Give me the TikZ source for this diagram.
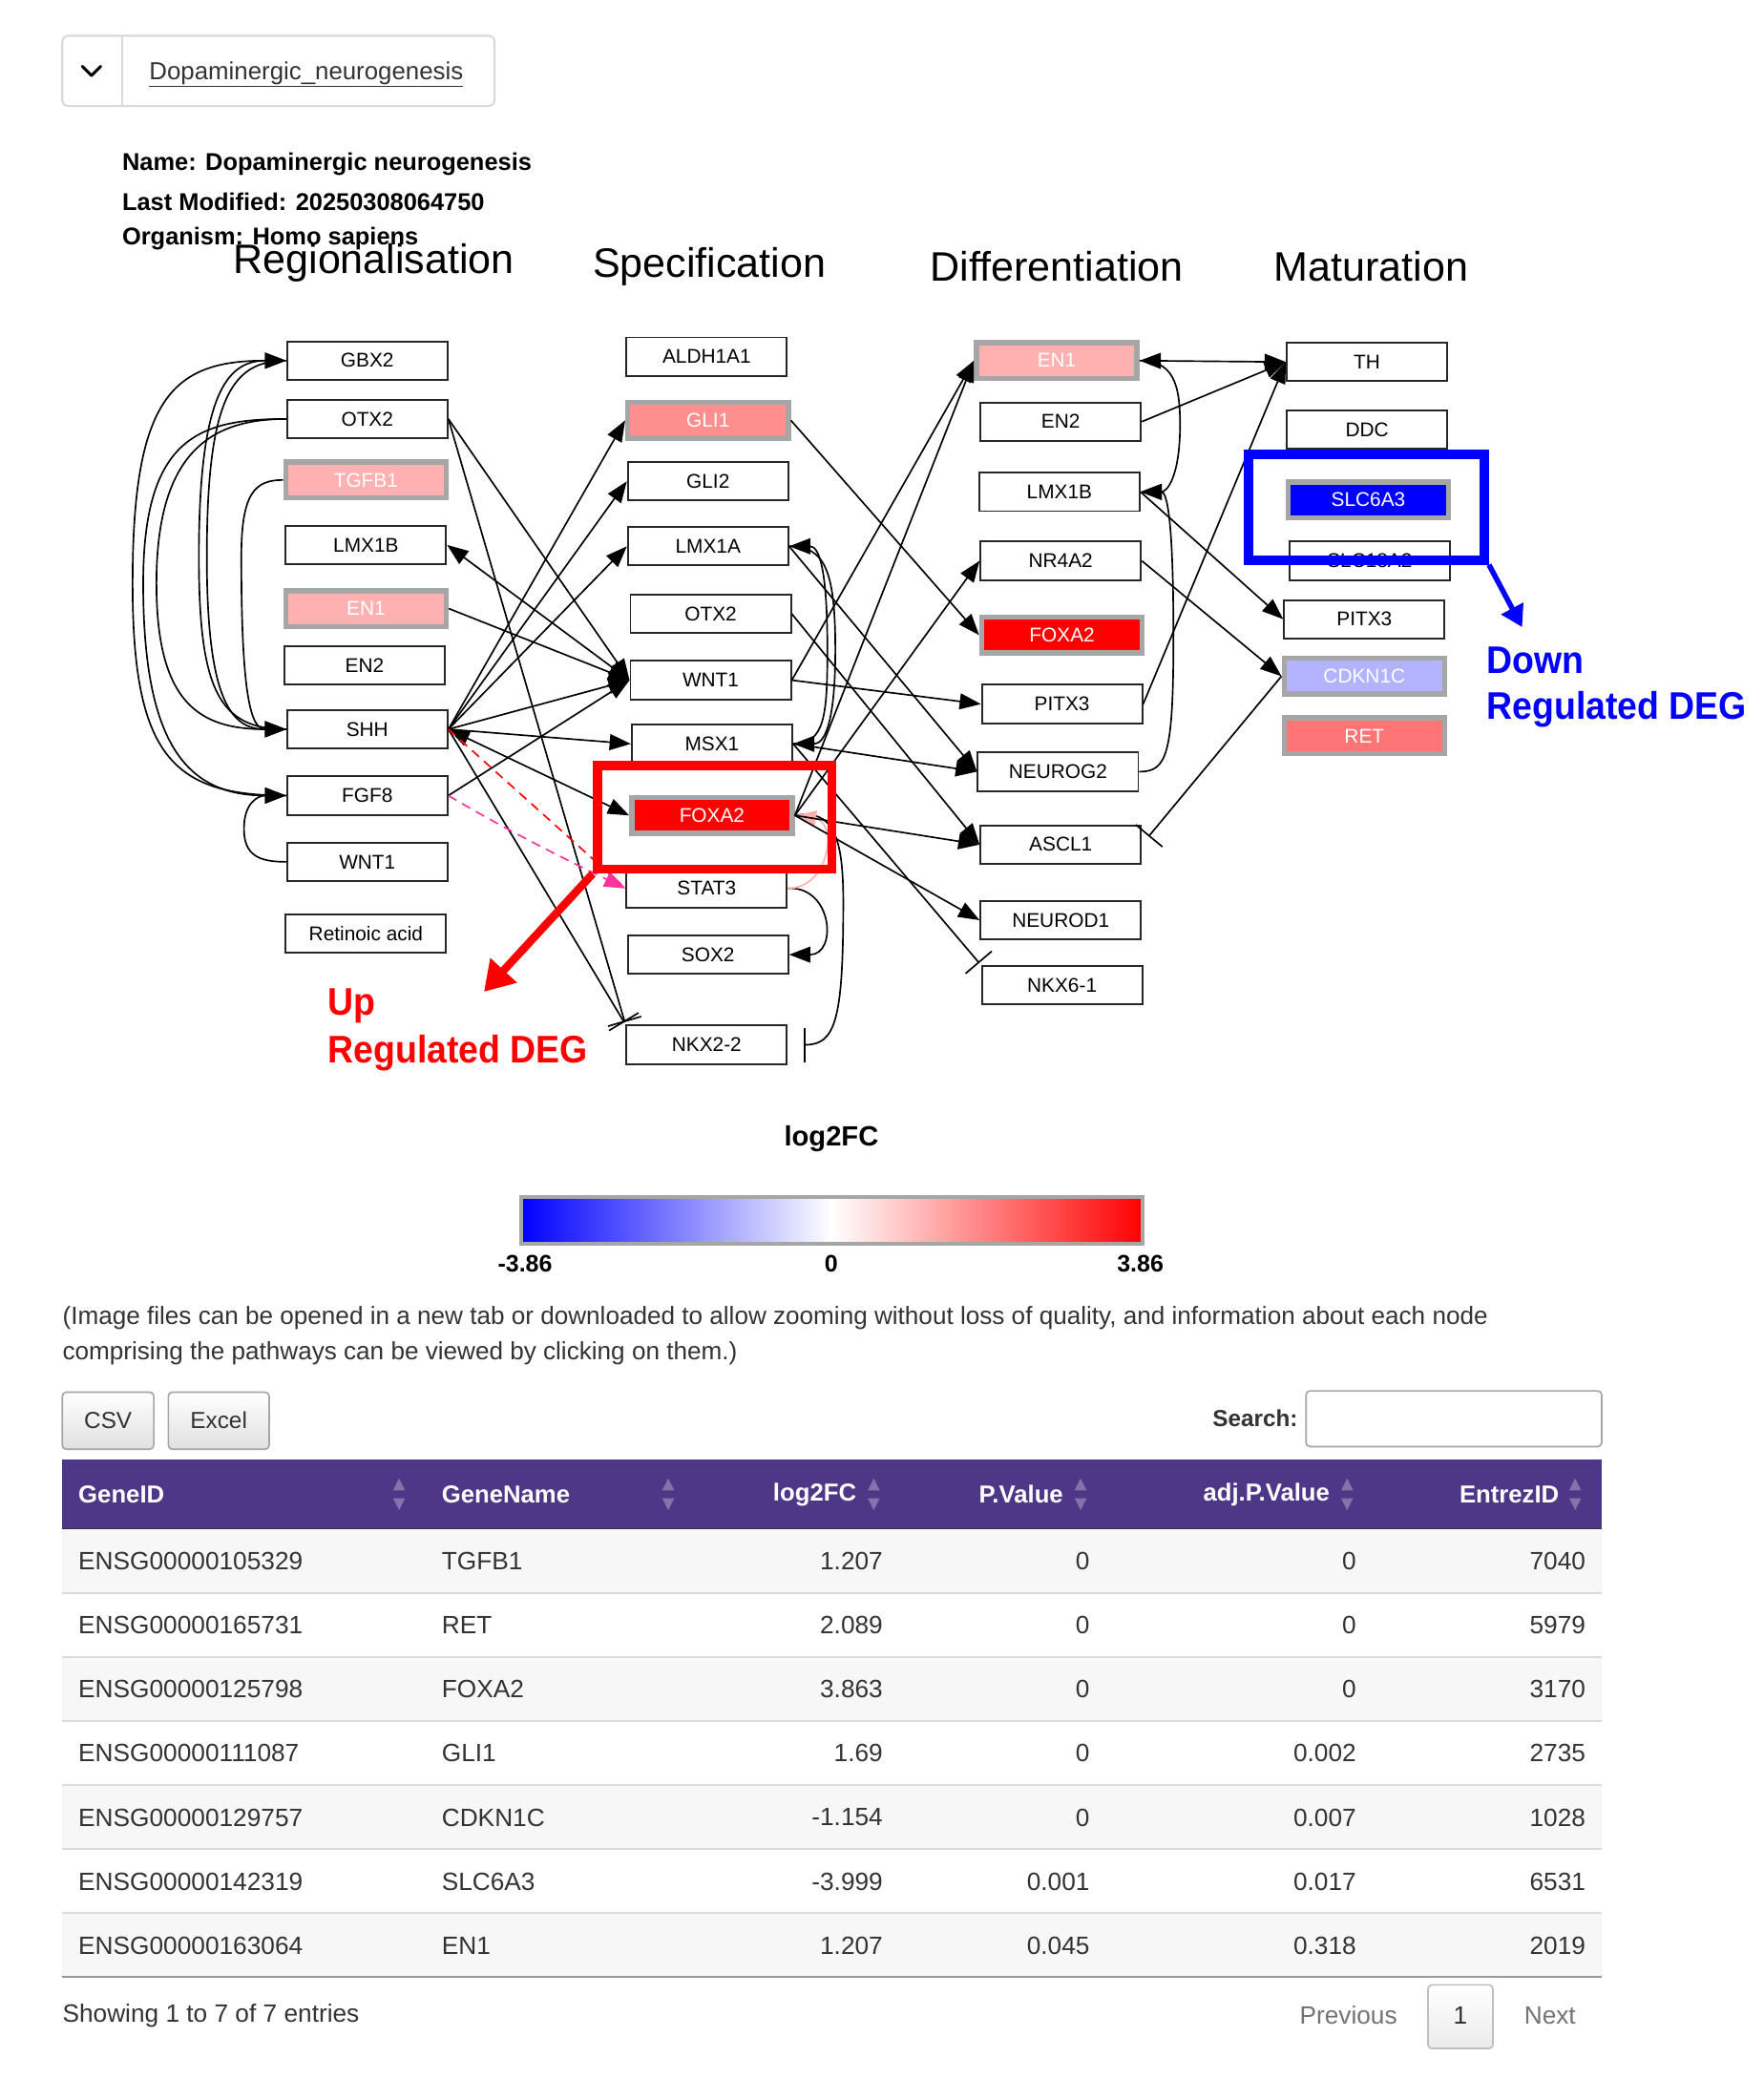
\documentclass[tikz,border=0pt]{standalone}
\usepackage{fontspec}
\setmainfont{Liberation Sans}
\newfontfamily\annfont[FakeStretch=0.93]{Liberation Sans}
\usetikzlibrary{arrows.meta}
\newcommand\myfs[1]{\fontsize{#1}{#1}\selectfont}
\definecolor{upA}{HTML}{FFB0B0}
\definecolor{upB}{HTML}{FF8F8F}
\definecolor{upC}{HTML}{FF7575}
\definecolor{upD}{HTML}{FF0000}
\definecolor{dnA}{HTML}{B3B3FF}
\definecolor{dnB}{HTML}{0000FF}
\definecolor{degborder}{HTML}{A6A6A6}
\definecolor{hdr}{HTML}{4F3787}
\definecolor{txt}{HTML}{333333}
\definecolor{magdash}{HTML}{FF3399}
\tikzset{
  gene/.style={draw=black!85, line width=1.4pt, fill=white, minimum width=121pt, minimum height=29pt, inner sep=0pt, font=\myfs{15}},
  deg/.style={gene, draw=degborder, line width=4pt, minimum height=27pt, text=white},
  arr/.style={line width=1.2pt, -{Triangle[length=16pt,width=12pt]}},
  darr/.style={line width=1.2pt, {Triangle[length=16pt,width=12pt]}-{Triangle[length=16pt,width=12pt]}},
  tee/.style={line width=1.2pt, -{Bar[width=26pt,line width=1.2pt]}},
  coltitle/.style={font=\myfs{31}, inner sep=0pt},
  info/.style={font=\bfseries\myfs{18.3}, anchor=west, inner sep=0pt},
  cell/.style={font=\myfs{18.9}, text=txt, inner sep=0pt},
  hcell/.style={font=\bfseries\myfs{18.5}, text=white, inner sep=0pt},
  annot/.style={font=\annfont\bfseries\myfs{29}, anchor=west, inner sep=0pt},
  sortic/.style={fill=white, opacity=0.3},
}
\begin{document}
\begin{tikzpicture}[x=1pt,y=-1pt]
\useasboundingbox[fill=white] (0,0) rectangle (1330,1568);

% ---------- header ----------
\draw[draw=black!15, line width=1.5pt, rounded corners=4pt] (47,27) rectangle (373,80);
\draw[black!15, line width=1.5pt] (92,27) -- (92,80);
\draw[line width=2.2pt, line cap=round, line join=round] (62,50) -- (69,57) -- (76,50);
\node[font=\myfs{18.6}, text=txt, inner sep=0pt] (link) at (231,56) {\underline{Dopaminergic\_neurogenesis}};
\node[info] (nm) at (92,124) {Name: Dopaminergic neurogenesis};
\node[info] (lm) at (92,152) {Last Modified: 20250308064750};
\node[info] (org) at (92,180) {Organism: Homo sapiens};

\node[coltitle] (t1) at (282,198) {Regionalisation};
\node[coltitle] (t2) at (535,201) {Specification};
\node[coltitle] (t3) at (797,201) {Differentiation};
\node[coltitle] (t4) at (1034,201) {Maturation};

% ---------- nodes ----------
\node[gene] (GBX2) at (277,272) {GBX2};
\node[gene] (OTX2r) at (277,316) {OTX2};
\node[deg, fill=upA] (TGFB1) at (276,362) {TGFB1};
\node[gene] (LMX1Br) at (276,411) {LMX1B};
\node[deg, fill=upA] (EN1r) at (276,459) {EN1};
\node[gene] (EN2r) at (275,502) {EN2};
\node[gene] (SHH) at (277,550) {SHH};
\node[gene] (FGF8) at (277,600) {FGF8};
\node[gene] (WNT1r) at (277,650) {WNT1};
\node[gene] (RA) at (276,704) {Retinoic acid};

\node[gene] (ALDH1A1) at (533,269) {ALDH1A1};
\node[deg, fill=upB] (GLI1) at (534,317) {GLI1};
\node[gene] (GLI2) at (534,363) {GLI2};
\node[gene] (LMX1A) at (534,412) {LMX1A};
\node[gene] (OTX2s) at (536,463) {OTX2};
\node[gene] (WNT1s) at (536,513) {WNT1};
\node[gene] (MSX1) at (537,561) {MSX1};
\node[deg, fill=upD] (FOXA2s) at (537,615) {FOXA2};
\node[gene] (STAT3) at (533,670) {STAT3};
\node[gene] (SOX2) at (534,720) {SOX2};
\node[gene] (NKX22) at (533,788) {NKX2-2};

\node[deg, fill=upA] (EN1d) at (797,272) {EN1};
\node[gene] (EN2d) at (800,318) {EN2};
\node[gene] (LMX1Bd) at (799,371) {LMX1B};
\node[gene] (NR4A2) at (800,423) {NR4A2};
\node[deg, fill=upD] (FOXA2d) at (801,479) {FOXA2};
\node[gene] (PITX3d) at (801,531) {PITX3};
\node[gene] (NEUROG2) at (798,582) {NEUROG2};
\node[gene] (ASCL1) at (800,637) {ASCL1};
\node[gene] (NEUROD1) at (800,694) {NEUROD1};
\node[gene] (NKX61) at (801,743) {NKX6-1};

\node[gene] (TH) at (1031,273) {TH};
\node[gene] (DDC) at (1031,324) {DDC};
\node[deg, fill=dnB] (SLC6A3) at (1032,377) {SLC6A3};
\node[gene] (SLC18A2) at (1033,423) {SLC18A2};
\node[gene] (PITX3m) at (1029,467) {PITX3};
\node[deg, fill=dnA] (CDKN1C) at (1029,510) {CDKN1C};
\node[deg, fill=upC] (RET) at (1029,555) {RET};

% ---------- left curves ----------
\draw[arr] (FGF8.west) .. controls (130,600) and (100,570) .. (100,440) .. controls (100,300) and (130,272) .. (GBX2.west);
\draw[arr] (OTX2r.west) .. controls (150,316) and (108,330) .. (108,440) .. controls (108,560) and (140,600) .. (FGF8.west);
\draw[arr] (OTX2r.west) .. controls (160,316) and (118,340) .. (118,440) .. controls (118,530) and (150,550) .. (SHH.west);
\draw[arr] (SHH.west) .. controls (165,550) and (150,520) .. (150,420) .. controls (150,300) and (170,272) .. (GBX2.west);
\draw[arr] (GBX2.west) .. controls (175,272) and (156,300) .. (156,420) .. controls (156,530) and (175,550) .. (SHH.west);
\draw[arr] (TGFB1.west) .. controls (192,362) and (182,372) .. (182,420) .. controls (182,530) and (190,550) .. (SHH.west);
\draw[arr] (WNT1r.west) .. controls (195,650) and (184,645) .. (184,625) .. controls (184,605) and (195,600) .. (FGF8.west);

% ---------- regionalisation -> specification ----------
\draw[arr] (OTX2r.east) -- (WNT1s.west);
\draw[tee, shorten >=2pt] (OTX2r.east) -- (NKX22.north west);
\draw[darr] (LMX1Br.east) -- (WNT1s.west);
\draw[arr] (EN1r.east) -- (WNT1s.west);
\draw[arr] (SHH.east) -- (GLI1.west);
\draw[arr] (SHH.east) -- (GLI2.west);
\draw[arr] (SHH.east) -- (LMX1A.west);
\draw[arr] (SHH.east) -- (WNT1s.west);
\draw[arr] (SHH.east) -- (MSX1.west);
\draw[darr] (SHH.east) -- (FOXA2s.west);
\draw[tee, shorten >=2pt] (SHH.east) -- (NKX22.north west);
\draw[arr] (FGF8.east) -- (WNT1s.west);
\draw[line width=1.2pt, red, dash pattern=on 7pt off 5pt] (SHH.east) -- (STAT3.west);
\draw[line width=1.2pt, magdash, dash pattern=on 7pt off 5pt, -{Triangle[length=16pt,width=12pt]}] (FGF8.east) .. controls (380,625) and (430,650) .. (STAT3.west);

% ---------- specification internal ----------
\draw[arr] (MSX1.east) .. controls (622,561) and (624,540) .. (624,490) .. controls (624,430) and (618,412) .. (LMX1A.east);
\draw[arr] (LMX1A.east) .. controls (622,412) and (630,430) .. (630,490) .. controls (630,545) and (622,561) .. (MSX1.east);
\draw[tee, shorten >=12pt] (FOXA2s.east) .. controls (628,610) and (636,630) .. (636,680) .. controls (636,770) and (630,788) .. (NKX22.east);
\draw[arr] (STAT3.east) .. controls (628,668) and (632,720) .. (SOX2.east);
\draw[line width=1.2pt, upA, -{Triangle[length=16pt,width=12pt]}] (STAT3.east) .. controls (626,670) and (632,620) .. (FOXA2s.east);

% ---------- specification -> differentiation ----------
\draw[arr] (GLI1.east) -- (FOXA2d.west);
\draw[arr] (WNT1s.east) -- (EN1d.west);
\draw[arr] (WNT1s.east) -- (PITX3d.west);
\draw[arr] (OTX2s.east) -- (ASCL1.west);
\draw[arr] (LMX1A.east) -- (NEUROG2.west);
\draw[arr] (MSX1.east) -- (NEUROG2.west);
\draw[tee, shorten >=2pt] (MSX1.east) -- (NKX61.north west);
\draw[arr] (FOXA2s.east) -- (EN1d.west);
\draw[arr] (FOXA2s.east) -- (NR4A2.west);
\draw[arr] (FOXA2s.east) -- (ASCL1.west);
\draw[arr] (FOXA2s.east) -- (NEUROD1.west);

% ---------- differentiation -> maturation ----------
\draw[darr] (EN1d.east) -- (TH.west);
\draw[arr] (EN1d.east) .. controls (885,272) and (890,290) .. (890,320) .. controls (890,360) and (880,371) .. (LMX1Bd.east);
\draw[arr] (NEUROG2.east) .. controls (880,582) and (885,570) .. (885,480) .. controls (885,390) and (880,371) .. (LMX1Bd.east);
\draw[arr] (EN2d.east) -- (TH.west);
\draw[arr] (PITX3d.east) -- (TH.west);
\draw[arr] (LMX1Bd.east) -- (PITX3m.west);
\draw[arr] (NR4A2.east) -- (CDKN1C.west);
\draw[tee, shorten >=8pt] (CDKN1C.west) -- (ASCL1.east);

% ---------- annotations ----------
\node[draw=red, line width=7pt, minimum width=177pt, minimum height=78pt, inner sep=0pt] (redbox) at (539,616.5) {};
\coordinate (uptip) at (365,748);
\draw[red, line width=6pt, -{Triangle[length=22pt,width=26pt]}] (redbox.south west) -- (uptip);
\node[annot, text=red] (up1) at (247,759) {Up};
\node[annot, text=red] (up2) at (247,794) {Regulated DEG};

\node[draw=dnB, line width=7pt, minimum width=178pt, minimum height=80pt, inner sep=0pt] (bluebox) at (1030.5,382.5) {};
\coordinate (dntip) at (1148,473);
\draw[dnB, line width=4pt, -{Triangle[length=16pt,width=18pt]}] (bluebox.south east) -- (dntip);
\node[annot, text=dnB] (dn1) at (1121,498) {Down};
\node[annot, text=dnB] (dn2) at (1121,535) {Regulated DEG};

% ---------- colour bar ----------
\node[font=\bfseries\myfs{21}, inner sep=0pt] (lgt) at (627,859) {log2FC};
\shade[left color=blue, right color=red, middle color=white] (393,903) rectangle (862,938);
\draw[degborder, line width=3pt] (393,903) rectangle (862,938);
\node[font=\bfseries\myfs{18}, inner sep=0pt] (lmin) at (396,953) {-3.86};
\node[font=\bfseries\myfs{18}, inner sep=0pt] (lmid) at (627,953) {0};
\node[font=\bfseries\myfs{18}, inner sep=0pt] (lmax) at (860,953) {3.86};

% ---------- note ----------
\node[font=\myfs{18.8}, text=txt, anchor=west, inner sep=0pt] (note1) at (47,994) {(Image files can be opened in a new tab or downloaded to allow zooming without loss of quality, and information about each node};
\node[font=\myfs{18.8}, text=txt, anchor=west, inner sep=0pt] (note2) at (47,1021) {comprising the pathways can be viewed by clicking on them.)};

% ---------- buttons / search ----------
\shade[top color=white, bottom color=black!12, draw=black!35, line width=1.2pt, rounded corners=3pt] (47,1050) rectangle (116,1093);
\node[font=\myfs{17.5}, text=txt, inner sep=0pt] (csv) at (81.5,1071) {CSV};
\shade[top color=white, bottom color=black!12, draw=black!35, line width=1.2pt, rounded corners=3pt] (127,1050) rectangle (203,1093);
\node[font=\myfs{17.5}, text=txt, inner sep=0pt] (xls) at (165,1071) {Excel};
\node[font=\bfseries\myfs{17.5}, text=txt, anchor=east, inner sep=0pt] (srch) at (979,1070) {Search:};
\draw[black!35, line width=1.2pt, rounded corners=3pt] (985,1049) rectangle (1208,1091);

% ---------- table ----------
\fill[hdr] (47,1101) rectangle (1208,1153);
\draw[black!80, line width=1.2pt] (47,1153) -- (1208,1153);
\node[hcell, anchor=west] (h1) at (59,1127) {GeneID};
\node[hcell, anchor=west] (h2) at (333,1127) {GeneName};
\node[hcell, anchor=east] (h3) at (646,1127) {log2FC};
\node[hcell, anchor=east] (h4) at (802,1127) {P.Value};
\node[hcell, anchor=east] (h5) at (1003,1127) {adj.P.Value};
\node[hcell, anchor=east] (h6) at (1176,1127) {EntrezID};
\foreach \sx in {301,504,659,815,1016,1188}{
  \fill[sortic] (\sx-4.5,1124) -- (\sx+4.5,1124) -- (\sx,1115) -- cycle;
  \fill[sortic] (\sx-4.5,1130) -- (\sx+4.5,1130) -- (\sx,1139) -- cycle;
}
\foreach \i in {0,2,4,6}{
  \fill[black!3] (47,1153+\i*48.3) rectangle (1208,1153+\i*48.3+48.3);
}
\foreach \i in {1,...,6}{
  \draw[black!14, line width=1.5pt] (47,1153+\i*48.3) -- (1208,1153+\i*48.3);
}
\draw[black!40, line width=1.8pt] (47,1491) -- (1208,1491);
\foreach \i/\gid/\gn/\lfc/\pv/\apv/\ez in {
  0/ENSG00000105329/TGFB1/1.207/0/0/7040,
  1/ENSG00000165731/RET/2.089/0/0/5979,
  2/ENSG00000125798/FOXA2/3.863/0/0/3170,
  3/ENSG00000111087/GLI1/1.69/0/0.002/2735,
  4/ENSG00000129757/CDKN1C/-1.154/0/0.007/1028,
  5/ENSG00000142319/SLC6A3/-3.999/0.001/0.017/6531,
  6/ENSG00000163064/EN1/1.207/0.045/0.318/2019}{
  \node[cell, anchor=west] (r\i a) at (59,1177.5+\i*48.3) {\gid};
  \node[cell, anchor=west] (r\i b) at (333,1177.5+\i*48.3) {\gn};
  \node[cell, anchor=east] (r\i c) at (666,1177.5+\i*48.3) {\lfc};
  \node[cell, anchor=east] (r\i d) at (822,1177.5+\i*48.3) {\pv};
  \node[cell, anchor=east] (r\i e) at (1023,1177.5+\i*48.3) {\apv};
  \node[cell, anchor=east] (r\i f) at (1196,1177.5+\i*48.3) {\ez};
}

% ---------- footer ----------
\node[cell, anchor=west] (show) at (47,1520) {Showing 1 to 7 of 7 entries};
\node[font=\myfs{18.9}, text=black!55, inner sep=0pt] (prev) at (1017,1520) {Previous};
\shade[top color=white, bottom color=black!8, draw=black!25, line width=1.2pt, rounded corners=3pt] (1077,1497) rectangle (1126,1545);
\node[cell] (pg) at (1101.5,1520) {1};
\node[font=\myfs{18.9}, text=black!55, inner sep=0pt] (next) at (1169,1520) {Next};
\end{tikzpicture}
\end{document}
